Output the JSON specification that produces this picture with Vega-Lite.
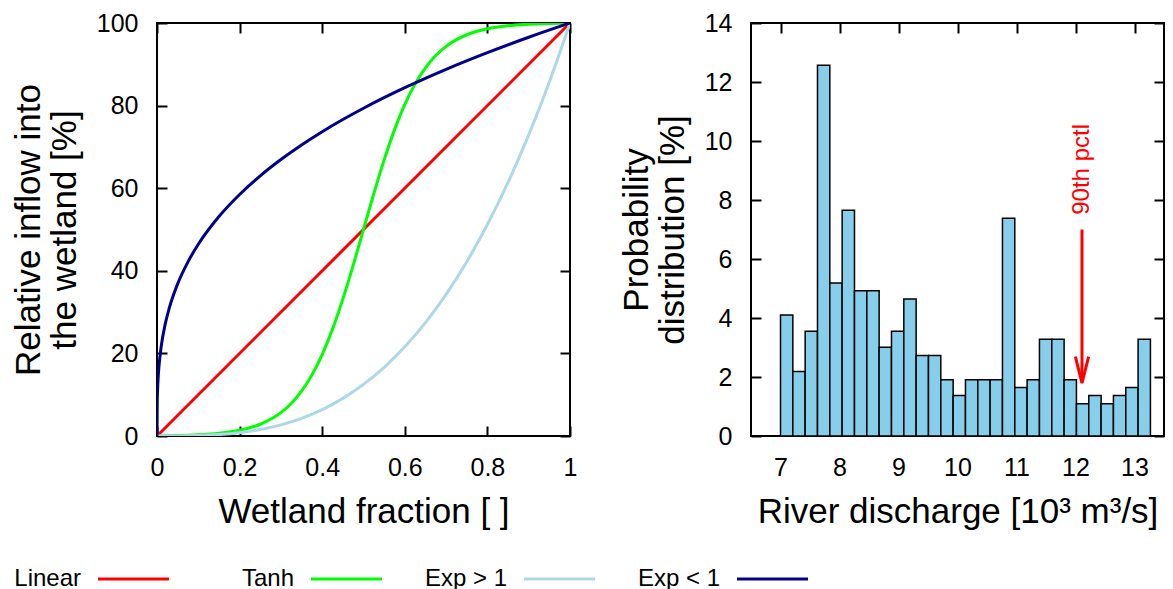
{
  "$schema": "https://vega.github.io/schema/vega-lite/v6.json",
  "padding": {"left": 10, "top": 10, "right": 5, "bottom": 0},
  "background": "white",
  "config": {
    "font": "Liberation Sans",
    "view": {"stroke": "black", "strokeWidth": 2},
    "axis": {
      "domain": false, "grid": false, "labelFlush": false,
      "tickColor": "black", "tickSize": -10, "tickWidth": 2,
      "labelFontSize": 25, "labelColor": "black", "labelPadding": 29,
      "titleFontSize": 35, "titleFontWeight": "normal", "titleColor": "black",
      "titleLineHeight": 36
    },
    "concat": {"spacing": 40}
  },
  "spacing": 37,
  "vconcat": [
    {
      "hconcat": [
        {
          "width": 413, "height": 413,
          "data": {"values": [
            {"series": "Linear", "x": 0, "y": 0},
            {"series": "Linear", "x": 1, "y": 100},
            {"series": "Tanh", "x": 0, "y": 0},
            {"series": "Tanh", "x": 0.05, "y": 0.092},
            {"series": "Tanh", "x": 0.1, "y": 0.278},
            {"series": "Tanh", "x": 0.15, "y": 0.649},
            {"series": "Tanh", "x": 0.2, "y": 1.389},
            {"series": "Tanh", "x": 0.25, "y": 2.845},
            {"series": "Tanh", "x": 0.3, "y": 5.652},
            {"series": "Tanh", "x": 0.325, "y": 7.867},
            {"series": "Tanh", "x": 0.35, "y": 10.838},
            {"series": "Tanh", "x": 0.375, "y": 14.74},
            {"series": "Tanh", "x": 0.4, "y": 19.726},
            {"series": "Tanh", "x": 0.425, "y": 25.878},
            {"series": "Tanh", "x": 0.45, "y": 33.15},
            {"series": "Tanh", "x": 0.475, "y": 41.322},
            {"series": "Tanh", "x": 0.5, "y": 50},
            {"series": "Tanh", "x": 0.525, "y": 58.678},
            {"series": "Tanh", "x": 0.55, "y": 66.85},
            {"series": "Tanh", "x": 0.575, "y": 74.122},
            {"series": "Tanh", "x": 0.6, "y": 80.274},
            {"series": "Tanh", "x": 0.625, "y": 85.26},
            {"series": "Tanh", "x": 0.65, "y": 89.162},
            {"series": "Tanh", "x": 0.675, "y": 92.133},
            {"series": "Tanh", "x": 0.7, "y": 94.348},
            {"series": "Tanh", "x": 0.75, "y": 97.155},
            {"series": "Tanh", "x": 0.8, "y": 98.611},
            {"series": "Tanh", "x": 0.85, "y": 99.351},
            {"series": "Tanh", "x": 0.9, "y": 99.722},
            {"series": "Tanh", "x": 0.95, "y": 99.908},
            {"series": "Tanh", "x": 1, "y": 100},
            {"series": "Exp > 1", "x": 0, "y": 0},
            {"series": "Exp > 1", "x": 0.05, "y": 0.0125},
            {"series": "Exp > 1", "x": 0.1, "y": 0.1},
            {"series": "Exp > 1", "x": 0.15, "y": 0.3375},
            {"series": "Exp > 1", "x": 0.2, "y": 0.8},
            {"series": "Exp > 1", "x": 0.25, "y": 1.5625},
            {"series": "Exp > 1", "x": 0.3, "y": 2.7},
            {"series": "Exp > 1", "x": 0.35, "y": 4.2875},
            {"series": "Exp > 1", "x": 0.4, "y": 6.4},
            {"series": "Exp > 1", "x": 0.45, "y": 9.1125},
            {"series": "Exp > 1", "x": 0.5, "y": 12.5},
            {"series": "Exp > 1", "x": 0.55, "y": 16.6375},
            {"series": "Exp > 1", "x": 0.6, "y": 21.6},
            {"series": "Exp > 1", "x": 0.65, "y": 27.4625},
            {"series": "Exp > 1", "x": 0.7, "y": 34.3},
            {"series": "Exp > 1", "x": 0.75, "y": 42.1875},
            {"series": "Exp > 1", "x": 0.8, "y": 51.2},
            {"series": "Exp > 1", "x": 0.85, "y": 61.4125},
            {"series": "Exp > 1", "x": 0.9, "y": 72.9},
            {"series": "Exp > 1", "x": 0.95, "y": 85.7375},
            {"series": "Exp > 1", "x": 1, "y": 100},
            {"series": "Exp < 1", "x": 0, "y": 0},
            {"series": "Exp < 1", "x": 0.0005, "y": 7.94},
            {"series": "Exp < 1", "x": 0.001, "y": 10},
            {"series": "Exp < 1", "x": 0.002, "y": 12.6},
            {"series": "Exp < 1", "x": 0.005, "y": 17.1},
            {"series": "Exp < 1", "x": 0.01, "y": 21.54},
            {"series": "Exp < 1", "x": 0.02, "y": 27.14},
            {"series": "Exp < 1", "x": 0.03, "y": 31.07},
            {"series": "Exp < 1", "x": 0.05, "y": 36.84},
            {"series": "Exp < 1", "x": 0.075, "y": 42.17},
            {"series": "Exp < 1", "x": 0.1, "y": 46.42},
            {"series": "Exp < 1", "x": 0.15, "y": 53.13},
            {"series": "Exp < 1", "x": 0.2, "y": 58.48},
            {"series": "Exp < 1", "x": 0.25, "y": 63.0},
            {"series": "Exp < 1", "x": 0.3, "y": 66.94},
            {"series": "Exp < 1", "x": 0.35, "y": 70.47},
            {"series": "Exp < 1", "x": 0.4, "y": 73.68},
            {"series": "Exp < 1", "x": 0.45, "y": 76.63},
            {"series": "Exp < 1", "x": 0.5, "y": 79.37},
            {"series": "Exp < 1", "x": 0.6, "y": 84.34},
            {"series": "Exp < 1", "x": 0.7, "y": 88.79},
            {"series": "Exp < 1", "x": 0.8, "y": 92.83},
            {"series": "Exp < 1", "x": 0.9, "y": 96.55},
            {"series": "Exp < 1", "x": 1, "y": 100}
          ]},
          "layer": [
            {
              "mark": {"type": "line", "strokeWidth": 3, "interpolate": "monotone", "clip": true},
              "encoding": {
                "x": {"field": "x", "type": "quantitative", "scale": {"domain": [0, 1], "nice": false},
                      "axis": {"values": [0, 0.2, 0.4, 0.6, 0.8, 1], "format": "~g", "title": "Wetland fraction [ ]", "titlePadding": 14}},
                "y": {"field": "y", "type": "quantitative", "scale": {"domain": [0, 100], "nice": false},
                      "axis": {"values": [0, 20, 40, 60, 80, 100], "title": ["Relative inflow into", "the wetland [%]"], "titlePadding": 14}},
                "color": {"field": "series", "type": "nominal",
                          "scale": {"domain": ["Linear", "Tanh", "Exp > 1", "Exp < 1"], "range": ["#ff0000", "#00ff00", "#add8e6", "#00008b"]},
                          "legend": null}
              }
            },
            {
              "mark": {"type": "point", "opacity": 0},
              "encoding": {
                "x": {"field": "x", "type": "quantitative", "axis": {"orient": "top", "values": [0, 0.2, 0.4, 0.6, 0.8, 1], "labels": false, "title": null}},
                "y": {"field": "y", "type": "quantitative", "axis": {"orient": "right", "values": [0, 20, 40, 60, 80, 100], "labels": false, "title": null}}
              }
            }
          ],
          "resolve": {"axis": {"x": "independent", "y": "independent"}}
        },
        {
          "width": 413, "height": 413,
          "layer": [
            {
              "data": {"values": [
                {"x0": 7.000, "x1": 7.209, "p": 4.10},
                {"x0": 7.209, "x1": 7.418, "p": 2.19},
                {"x0": 7.418, "x1": 7.627, "p": 3.55},
                {"x0": 7.627, "x1": 7.836, "p": 12.57},
                {"x0": 7.836, "x1": 8.045, "p": 5.19},
                {"x0": 8.045, "x1": 8.254, "p": 7.65},
                {"x0": 8.254, "x1": 8.463, "p": 4.92},
                {"x0": 8.463, "x1": 8.672, "p": 4.92},
                {"x0": 8.672, "x1": 8.881, "p": 3.01},
                {"x0": 8.881, "x1": 9.090, "p": 3.55},
                {"x0": 9.090, "x1": 9.299, "p": 4.64},
                {"x0": 9.299, "x1": 9.508, "p": 2.73},
                {"x0": 9.508, "x1": 9.717, "p": 2.73},
                {"x0": 9.717, "x1": 9.926, "p": 1.91},
                {"x0": 9.926, "x1": 10.135, "p": 1.37},
                {"x0": 10.135, "x1": 10.344, "p": 1.91},
                {"x0": 10.344, "x1": 10.553, "p": 1.91},
                {"x0": 10.553, "x1": 10.762, "p": 1.91},
                {"x0": 10.762, "x1": 10.971, "p": 7.38},
                {"x0": 10.971, "x1": 11.180, "p": 1.64},
                {"x0": 11.180, "x1": 11.389, "p": 1.91},
                {"x0": 11.389, "x1": 11.598, "p": 3.28},
                {"x0": 11.598, "x1": 11.807, "p": 3.28},
                {"x0": 11.807, "x1": 12.016, "p": 1.91},
                {"x0": 12.016, "x1": 12.225, "p": 1.09},
                {"x0": 12.225, "x1": 12.434, "p": 1.37},
                {"x0": 12.434, "x1": 12.643, "p": 1.09},
                {"x0": 12.643, "x1": 12.852, "p": 1.37},
                {"x0": 12.852, "x1": 13.061, "p": 1.64},
                {"x0": 13.061, "x1": 13.270, "p": 3.28}
              ]},
              "mark": {"type": "bar", "fill": "#87ceeb", "stroke": "black", "strokeWidth": 1.5},
              "encoding": {
                "x": {"field": "x0", "type": "quantitative", "scale": {"domain": [6.5, 13.5], "nice": false},
                      "axis": {"values": [7, 8, 9, 10, 11, 12, 13], "title": "River discharge [10³ m³/s]", "titlePadding": 14}},
                "x2": {"field": "x1"},
                "y": {"field": "p", "type": "quantitative", "scale": {"domain": [0, 14], "nice": false},
                      "axis": {"values": [0, 2, 4, 6, 8, 10, 12, 14], "title": ["Probability", "distribution [%]"], "titlePadding": 14}},
                "y2": {"datum": 0}
              }
            },
            {
              "data": {"values": [{"x": 12.11, "y": 1.8}]},
              "mark": {"type": "point", "opacity": 0},
              "encoding": {
                "x": {"field": "x", "type": "quantitative", "axis": {"orient": "top", "values": [7, 8, 9, 10, 11, 12, 13], "labels": false, "title": null}},
                "y": {"field": "y", "type": "quantitative", "axis": {"orient": "right", "values": [0, 2, 4, 6, 8, 10, 12, 14], "labels": false, "title": null}}
              }
            },
            {
              "data": {"values": [{"x": 12.11, "ytop": 7.0, "ytip": 1.85}]},
              "mark": {"type": "rule", "color": "#ff0000", "strokeWidth": 3},
              "encoding": {
                "x": {"field": "x", "type": "quantitative", "axis": null},
                "y": {"field": "ytop", "type": "quantitative", "axis": null},
                "y2": {"field": "ytip"}
              }
            },
            {
              "data": {"values": [{"x": 12.11, "y": 1.8}]},
              "mark": {"type": "point", "shape": "M-0.5,-1L0,1L0.5,-1", "size": 700, "filled": false, "stroke": "#ff0000", "strokeWidth": 3, "opacity": 1, "yOffset": -13},
              "encoding": {
                "x": {"field": "x", "type": "quantitative", "axis": null},
                "y": {"field": "y", "type": "quantitative", "axis": null}
              }
            },
            {
              "data": {"values": [{"x": 12.11, "y": 7.5, "label": "90th pctl"}]},
              "mark": {"type": "text", "angle": 270, "align": "left", "baseline": "middle", "color": "#ff0000", "fontSize": 24},
              "encoding": {
                "x": {"field": "x", "type": "quantitative", "axis": null},
                "y": {"field": "y", "type": "quantitative", "axis": null},
                "text": {"field": "label"}
              }
            }
          ],
          "resolve": {"axis": {"x": "independent", "y": "independent"}}
        }
      ]
    },
    {
      "width": 640, "height": 16,
      "view": {"stroke": null},
      "data": {"values": [{"series": "Linear"}, {"series": "Tanh"}, {"series": "Exp > 1"}, {"series": "Exp < 1"}]},
      "layer": [
        {
          "mark": {"type": "rule", "strokeWidth": 3, "x2Offset": 71},
          "encoding": {
            "x": {"field": "series", "type": "nominal", "sort": null, "scale": {"type": "point", "domain": ["Linear", "Tanh", "Exp > 1", "Exp < 1"], "range": [-59, 580], "padding": 0}, "axis": null},
            "x2": {"field": "series"},
            "color": {"field": "series", "type": "nominal", "scale": {"domain": ["Linear", "Tanh", "Exp > 1", "Exp < 1"], "range": ["#ff0000", "#00ff00", "#add8e6", "#00008b"]}, "legend": null}
          }
        },
        {
          "mark": {"type": "text", "align": "right", "baseline": "middle", "dx": -17, "fontSize": 24, "color": "black"},
          "encoding": {
            "x": {"field": "series", "type": "nominal", "sort": null, "axis": null},
            "text": {"field": "series"}
          }
        }
      ]
    }
  ]
}
